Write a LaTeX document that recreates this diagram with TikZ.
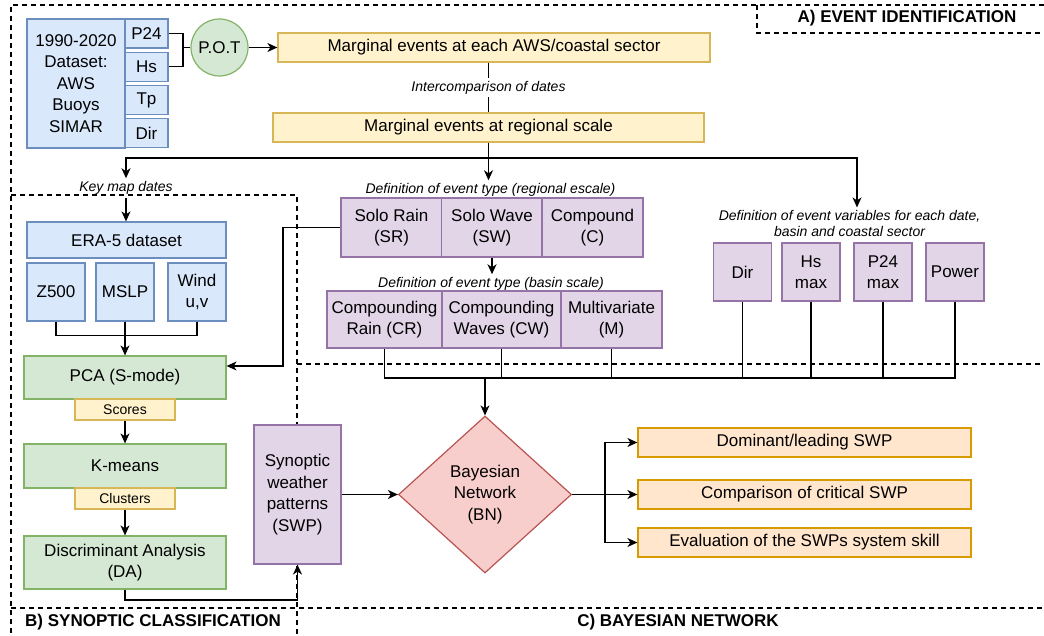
\documentclass[tikz,border=0pt]{standalone}
\usepackage{fontspec}
\setmainfont{Liberation Sans}
\usetikzlibrary{shapes.geometric,arrows.meta}

\definecolor{blueF}{HTML}{DAE8FC}
\definecolor{blueD}{HTML}{6C8EBF}
\definecolor{greenF}{HTML}{D5E8D4}
\definecolor{greenD}{HTML}{82B366}
\definecolor{yellowF}{HTML}{FFF2CC}
\definecolor{yellowD}{HTML}{D6B656}
\definecolor{purpleF}{HTML}{E1D5E7}
\definecolor{purpleD}{HTML}{9673A6}
\definecolor{redF}{HTML}{F8CECC}
\definecolor{redD}{HTML}{B85450}
\definecolor{orangeF}{HTML}{FFE6CC}
\definecolor{orangeD}{HTML}{D79B00}

\begin{document}
\begin{tikzpicture}[x=1pt,y=-1pt]
  \tikzset{
    box/.style={draw, line width=1.2pt, inner sep=1pt, align=center,
      font=\fontsize{17}{21.5}\selectfont},
    blue box/.style={box, fill=blueF, draw=blueD},
    green box/.style={box, fill=greenF, draw=greenD},
    yellow box/.style={box, fill=yellowF, draw=yellowD},
    purple box/.style={box, fill=purpleF, draw=purpleD},
    orange box/.style={box, fill=orangeF, draw=orangeD},
    tag/.style={yellow box, font=\fontsize{14}{16}\selectfont,
      minimum width=100pt, minimum height=21pt},
    note/.style={font=\fontsize{14}{15.5}\selectfont\itshape, inner sep=3pt, align=center},
    link/.style={line width=1.3pt},
    flow/.style={link, -{Stealth[length=10pt,width=9pt,inset=3pt]}},
    zone/.style={line width=1.1pt, dash pattern=on 5pt off 4pt},
    part/.style={font=\fontsize{17}{20}\selectfont\bfseries}
  }
  \useasboundingbox (0,0) rectangle (1044,636);

  \draw[zone] (1044,5) -- (11,5) -- (11,636);
  \draw[zone] (757,5) -- (757,33) -- (1044,33);
  \draw[zone] (11,195) -- (297,195) -- (297,636);
  \draw[zone] (297,364) -- (1044,364);
  \draw[zone] (11,608) -- (1044,608);
  \node[part] (parta) at (907,18) {A) EVENT IDENTIFICATION};
  \node[part] (partb) at (153,622) {B) SYNOPTIC CLASSIFICATION};
  \node[part] (partc) at (678,622) {C) BAYESIAN NETWORK};

  \node[blue box, minimum width=98pt, minimum height=129pt] (data) at (76,83.5)
    {1990-2020\\Dataset:\\AWS\\Buoys\\SIMAR};
  \foreach \v [count=\i] in {P24,Hs,Tp,Dir} {
    \node[blue box, minimum width=43pt, minimum height=29pt] (var\i)
      at (146.5,{33.5+33.3*(\i-1)}) {\v};
  }
  \node[box, circle, fill=greenF, draw=greenD, minimum size=57pt, inner sep=0pt]
    (pot) at (219.5,47.5) {P.O.T};
  \coordinate (join) at (183,47.5);
  \draw[link] (var1.east) -| (join) |- (var2.east);
  \draw[link] (join) -- (pot);

  \node[yellow box, minimum width=432pt, minimum height=29pt] (marg1) at (494,47.5)
    {Marginal events at each AWS/coastal sector};
  \node[yellow box, minimum width=431pt, minimum height=29pt] (marg2) at (488.5,127.5)
    {Marginal events at regional scale};
  \draw[flow] (pot) -- (marg1);
  \draw[link] (marg1.south -| marg2.north) --
    node[note, fill=white] {Intercomparison of dates} (marg2.north);

  \node[note] (keymap) at (126,188) {Key map dates};
  \node[note] (regional) at (490.5,190) {Definition of event type (regional escale)};
  \node[note] (basin) at (491,284) {Definition of event type (basin scale)};
  \node[note] (varnote) at (849.5,223.5)
    {Definition of event variables for each date,\\basin and coastal sector};
  \coordinate (fork) at (488.5,158);
  \draw[flow] (marg2.south) -- (regional.north -| marg2.south);
  \draw[flow] (fork) -| (keymap.north);
  \draw[flow] (fork) -| (varnote.north -| 857,0);

  \node[blue box, minimum width=199pt, minimum height=36pt] (era) at (126.5,240) {ERA-5 dataset};
  \foreach \n/\x/\t in {z500/56/Z500, mslp/125/MSLP, wind/197/{Wind\\u,v}} {
    \node[blue box, minimum size=58pt] (\n) at (\x,292) {\t};
  }
  \draw[flow] (keymap.south) -- (era.north -| keymap.south);
  \node[green box, minimum width=202pt, minimum height=43pt] (pca) at (125,377.5) {PCA (S-mode)};
  \node[tag] (scores) at (125,409.5) {Scores};
  \node[green box, minimum width=202pt, minimum height=44pt] (kmeans) at (125,466) {K-means};
  \node[tag] (clusters) at (125,498.5) {Clusters};
  \node[green box, minimum width=202pt, minimum height=53pt] (da) at (125,562.5)
    {Discriminant Analysis\\(DA)};
  \draw[link] (z500.south) -- ++(0,14) -| (wind.south);
  \draw[flow] (mslp.south) -- (pca.north);
  \draw[flow] (scores.south) -- (kmeans.north);
  \draw[flow] (clusters.south) -- (da.north);

  \foreach \n/\x/\t in {sr/391.5/{Solo Rain\\(SR)}, sw/492/{Solo Wave\\(SW)}, cc/592.5/{Compound\\(C)}} {
    \node[purple box, minimum width=101pt, minimum height=59pt] (\n) at (\x,227.5) {\t};
  }
  \foreach \n/\x/\w/\t in {cr/384.5/115pt/{Compounding\\Rain (CR)},
      cw/501.5/119pt/{Compounding\\Waves (CW)}, mv/611.5/101pt/{Multivariate\\(M)}} {
    \node[purple box, minimum width=\w, minimum height=57pt] (\n) at (\x,319.5) {\t};
  }
  \foreach \n/\x/\t in {dir/742.5/Dir, hsmax/811/{Hs\\max}, pmax/883/{P24\\max}, power/955/Power} {
    \node[purple box, minimum size=58pt] (\n) at (\x,272) {\t};
  }
  \draw[flow] (sw.south) -- (basin.north -| sw.south);
  \coordinate (turn) at (283,366);
  \draw[flow] (sr.west) -| (turn) -- (pca.east |- turn);

  \node[purple box, minimum width=87pt, minimum height=139pt] (swp) at (297.5,494.5)
    {Synoptic\\weather\\patterns\\(SWP)};
  \draw[flow] (da.south) -- ++(0,10.5) -| (swp.south);

  \node[box, diamond, fill=redF, draw=redD, minimum width=173pt, minimum height=157pt,
    inner sep=0pt] (bn) at (485,494.5) {Bayesian\\Network\\(BN)};
  \coordinate (bus) at (485,378);
  \foreach \n in {cr,cw,mv,dir,hsmax,pmax,power} {
    \draw[link] (\n.south) |- (bus);
  }
  \draw[flow] (bus) -- (bn.north);
  \draw[flow] (swp) -- (bn);

  \node[orange box, minimum width=333pt, minimum height=29pt] (dom) at (804.5,442.5)
    {Dominant/leading SWP};
  \node[orange box, minimum width=333pt, minimum height=29pt] (comp) at (804.5,494.5)
    {Comparison of critical SWP};
  \node[orange box, minimum width=333pt, minimum height=29pt] (eval) at (804.5,542.5)
    {Evaluation of the SWPs system skill};
  \coordinate (split) at (605,494.5);
  \draw[link] (bn.east) -- (split);
  \foreach \n in {dom,comp,eval} {
    \draw[flow] (split) |- (\n.west);
  }
\end{tikzpicture}
\end{document}
